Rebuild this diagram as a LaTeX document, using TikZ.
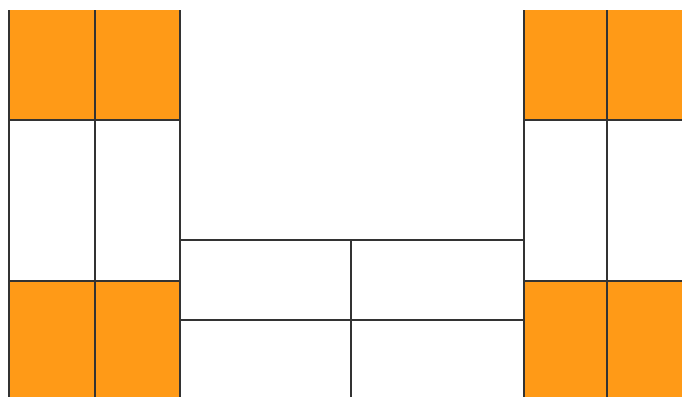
\documentclass[tikz,border=0pt]{standalone}
\usepackage{tikz}
\usetikzlibrary{positioning}
\definecolor{tileorange}{RGB}{255,154,23}
\tikzset{
  wall/.style={draw=black!80, line width=0.03cm},
  tile/.style={fill=tileorange},
  room/.style={wall, fill=white}
}
\begin{document}
\begin{tikzpicture}[x=0.02cm, y=-0.02cm]
\clip (0,0) rectangle (682,396);
\useasboundingbox (0,0) rectangle (682,396);
% side columns
\foreach \xa/\xb in {9/180, 524/700} {
  \fill[tile] (\xa,10) rectangle (\xb,120);
  \fill[tile] (\xa,281) rectangle (\xb,410);
  \draw[wall] (\xa,120) -- (\xb,120);
  \draw[wall] (\xa,281) -- (\xb,281);
}
\foreach \x in {9, 95, 180, 524, 607}
  \draw[wall] (\x,10) -- (\x,410);
% middle block
\draw[room] (180,240) rectangle (351,320);
\draw[room] (351,240) rectangle (524,320);
\draw[room] (180,320) rectangle (351,410);
\draw[room] (351,320) rectangle (524,410);
\end{tikzpicture}
\end{document}
